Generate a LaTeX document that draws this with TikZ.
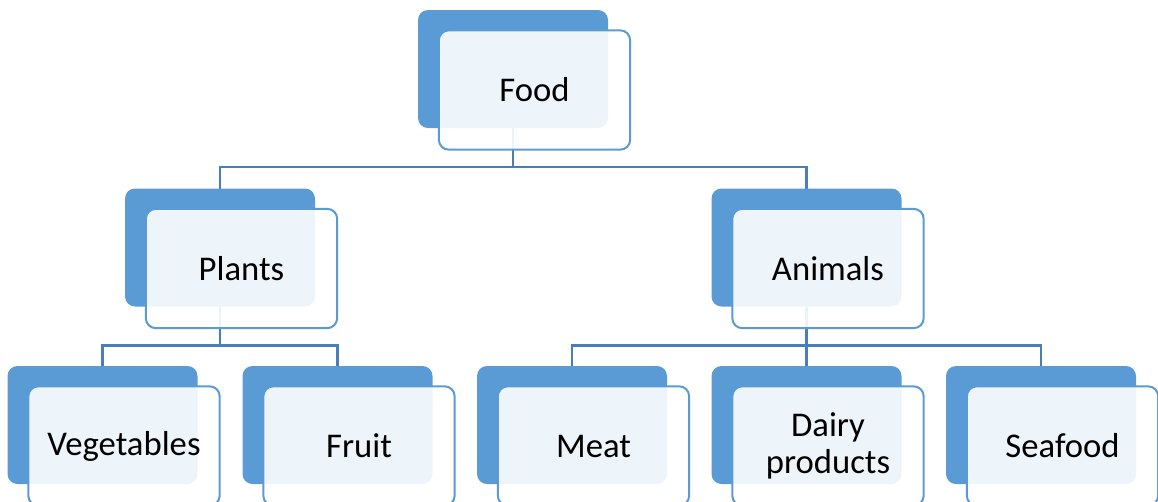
\documentclass[tikz,border=0pt]{standalone}
\usepackage[svgnames]{xcolor}
\usepackage{fontspec}
\setmainfont{Carlito}
\usepackage{tikz}
\usetikzlibrary{
  backgrounds
}
\definecolor{tileBlue}{HTML}{5B9BD5}
\definecolor{linkBlue}{HTML}{4A7EBB}
\colorlet{tileFace}{white}

\begin{document}
\begin{tikzpicture}[
  x=0.75pt, y=-0.75pt,
  every tile/.style={rounded corners=7.5pt, inner sep=0pt, outer sep=0pt},
  back tile/.style={every tile, fill=tileBlue,
    minimum width=142.5pt, minimum height=88.5pt},
  front tile/.style={every tile, draw=tileBlue, line width=1.5pt,
    fill=tileFace, fill opacity=0.9, text opacity=1,
    minimum width=143.5pt, minimum height=89.5pt,
    align=center, font=\fontsize{26}{27.5}\selectfont},
  link/.style={draw=linkBlue, line width=1.6pt}
]
\useasboundingbox (0,0) rectangle (1158,501);
\foreach \nm/\cx/\cy/\txt in {
  food/513/69/Food,
  plants/220/247.5/Plants,
  animals/806.5/247.5/Animals,
  vegetables/102.5/425/Vegetables,
  fruit/337.5/425/Fruit,
  meat/572/425/Meat,
  dairy/806.5/425/{Dairy\\products},
  seafood/1041/425/Seafood} {
  \node[back tile] (\nm-back) at (\cx,\cy) {};
  \node[front tile] (\nm) at ([shift={(21.5,21)}]\nm-back.center) {\txt};
}
\begin{pgfonlayer}{background}
\foreach \parent/\child in {food/plants, food/animals,
  plants/vegetables, plants/fruit,
  animals/meat, animals/dairy, animals/seafood} {
  \draw[link] (\parent-back.south) -- ++(0,39) -| (\child-back.north);
}
\end{pgfonlayer}
\end{tikzpicture}
\end{document}
